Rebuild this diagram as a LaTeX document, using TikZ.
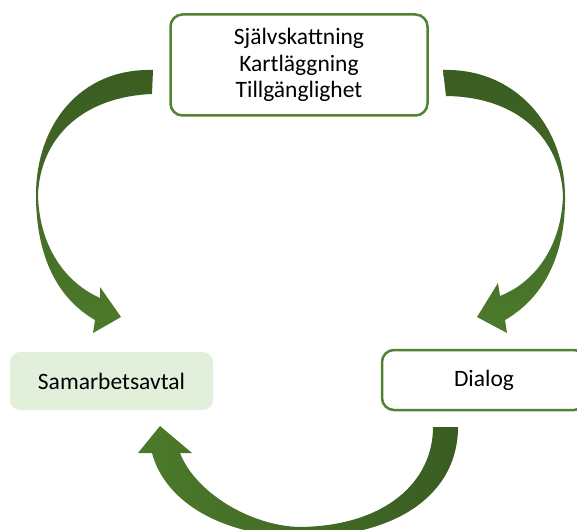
\documentclass[tikz,border=0pt]{standalone}
\usepackage{fontspec}
\setmainfont{Carlito}
\usetikzlibrary{shapes, positioning}
\definecolor{frame}{RGB}{84,130,53}
\definecolor{arrowdark}{RGB}{58,92,34}
\definecolor{arrowlight}{RGB}{76,122,42}
\definecolor{softgreen}{RGB}{226,239,218}

\begin{document}
\begin{tikzpicture}[x=1pt, y=-1pt]
		% Define elements
		\tikzstyle{block} = [rectangle, draw=frame, line width=2.5pt, fill=white,
		    rounded corners=12pt, align=center, font=\fontsize{23.5}{26.5}\selectfont]
		\tikzstyle{plain} = [rectangle, fill=softgreen, rounded corners=10pt,
		    align=center, font=\fontsize{23.5}{26.5}\selectfont]
		\tikzstyle{swoop} = [top color=arrowdark, bottom color=arrowlight]
		\tikzstyle{swoopflat} = [left color=arrowlight, right color=arrowdark]
		\useasboundingbox (0,0) rectangle (577,529);
		\clip (0,0) rectangle (577,529);

		%% Boxes
		\node [name = survey, block, minimum width=257pt, minimum height=101pt]
			at (299,65) {Självskattning\\Kartläggning\\Tillgänglighet};
		\node [name = avtal, plain, minimum width=203pt, minimum height=58pt]
			at (111.5,381) {Samarbetsavtal};
		\node [name = dialog, block, minimum width=204pt, minimum height=60pt]
			at (484,380) {Dialog};

		%% Arrows
		% top box -> Samarbetsavtal
		\path [swoop] (153,70) .. controls (80,68) and (36,125) .. (36,195)
			.. controls (36,260) and (60,300) .. (95,320) -- (93,333) -- (121,317)
			-- (100,287) -- (100,298) .. controls (60,280) and (39,240) .. (38,195)
			.. controls (40,140) and (80,97) .. (152,94) -- cycle;
		% top box -> Dialog
		\path [swoop] (443,70) .. controls (515,68) and (564,125) .. (565,195)
			.. controls (566,260) and (540,300) .. (505,320) -- (507,333) -- (477,317)
			-- (498,283) -- (500,296) .. controls (540,280) and (562,240) .. (563,195)
			.. controls (560,140) and (520,97) .. (446,96) -- cycle;
		% Dialog -> Samarbetsavtal
		\path [swoopflat] (458,427) -- (433,427) .. controls (433,482) and (385,526) .. (300,527)
			.. controls (250,526) and (195,492) .. (180,453) -- (192,453) -- (160,426)
			-- (138,453) -- (152,453) .. controls (165,502) and (222,536) .. (300,537)
			.. controls (400,537) and (458,492) .. (458,427) -- cycle;
	\end{tikzpicture}
\end{document}
